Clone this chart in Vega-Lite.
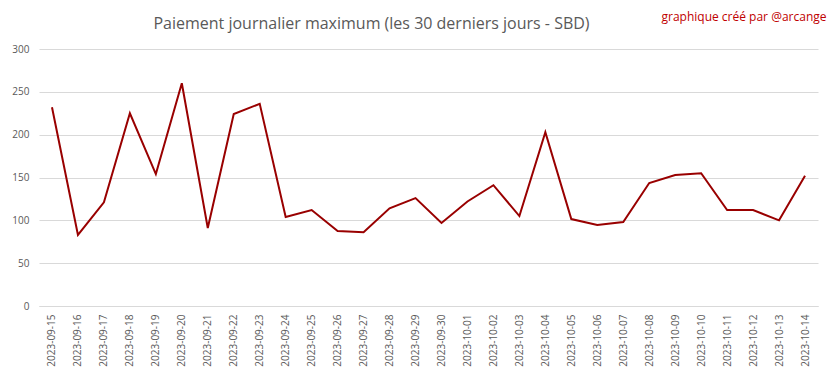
{
  "$schema": "https://vega.github.io/schema/vega-lite/v6.json",
  "autosize": {"type": "none"},
  "width": 779,
  "height": 257,
  "padding": {"left": 39, "top": 49, "right": 15, "bottom": 73},
  "background": "white",
  "title": {
    "text": "Paiement journalier maximum (les 30 derniers jours - SBD)",
    "anchor": "middle",
    "frame": "group",
    "dx": -57,
    "dy": 22,
    "offset": 0,
    "font": "Open Sans",
    "fontSize": 16,
    "fontWeight": "normal",
    "color": "#595959"
  },
  "config": {
    "view": {"stroke": null},
    "font": "Open Sans"
  },
  "data": {
    "values": [
      {"date": "2023-09-15", "value": 232},
      {"date": "2023-09-16", "value": 83},
      {"date": "2023-09-17", "value": 121},
      {"date": "2023-09-18", "value": 225},
      {"date": "2023-09-19", "value": 154},
      {"date": "2023-09-20", "value": 260},
      {"date": "2023-09-21", "value": 91},
      {"date": "2023-09-22", "value": 224},
      {"date": "2023-09-23", "value": 236},
      {"date": "2023-09-24", "value": 104},
      {"date": "2023-09-25", "value": 112},
      {"date": "2023-09-26", "value": 87.5},
      {"date": "2023-09-27", "value": 86},
      {"date": "2023-09-28", "value": 114},
      {"date": "2023-09-29", "value": 126},
      {"date": "2023-09-30", "value": 97},
      {"date": "2023-10-01", "value": 122},
      {"date": "2023-10-02", "value": 141},
      {"date": "2023-10-03", "value": 105},
      {"date": "2023-10-04", "value": 203},
      {"date": "2023-10-05", "value": 101.5},
      {"date": "2023-10-06", "value": 94.5},
      {"date": "2023-10-07", "value": 98},
      {"date": "2023-10-08", "value": 143.5},
      {"date": "2023-10-09", "value": 153},
      {"date": "2023-10-10", "value": 155},
      {"date": "2023-10-11", "value": 112},
      {"date": "2023-10-12", "value": 112},
      {"date": "2023-10-13", "value": 100},
      {"date": "2023-10-14", "value": 152}
    ]
  },
  "mark": {"type": "line", "color": "#990000", "strokeWidth": 2},
  "encoding": {
    "x": {
      "field": "date",
      "type": "ordinal",
      "scale": {"type": "point", "padding": 0.5},
      "axis": {
        "title": null,
        "labelAngle": -90,
        "labelColor": "#595959",
        "labelFontSize": 10,
        "labelPadding": 8,
        "ticks": false,
        "domain": true,
        "domainColor": "#d9d9d9",
        "grid": false
      }
    },
    "y": {
      "field": "value",
      "type": "quantitative",
      "scale": {"domain": [0, 300], "nice": false},
      "axis": {
        "values": [0, 50, 100, 150, 200, 250, 300],
        "labelColor": "#595959",
        "labelFontSize": 10,
        "labelPadding": 10,
        "ticks": false,
        "domain": false,
        "grid": true,
        "gridColor": "#d9d9d9",
        "title": "graphique créé par @arcange",
        "titleAngle": 0,
        "titleAlign": "right",
        "titleBaseline": "middle",
        "titleX": 787,
        "titleY": -33,
        "titleColor": "#c00000",
        "titleFontSize": 12,
        "titleFontWeight": "normal"
      }
    }
  }
}
